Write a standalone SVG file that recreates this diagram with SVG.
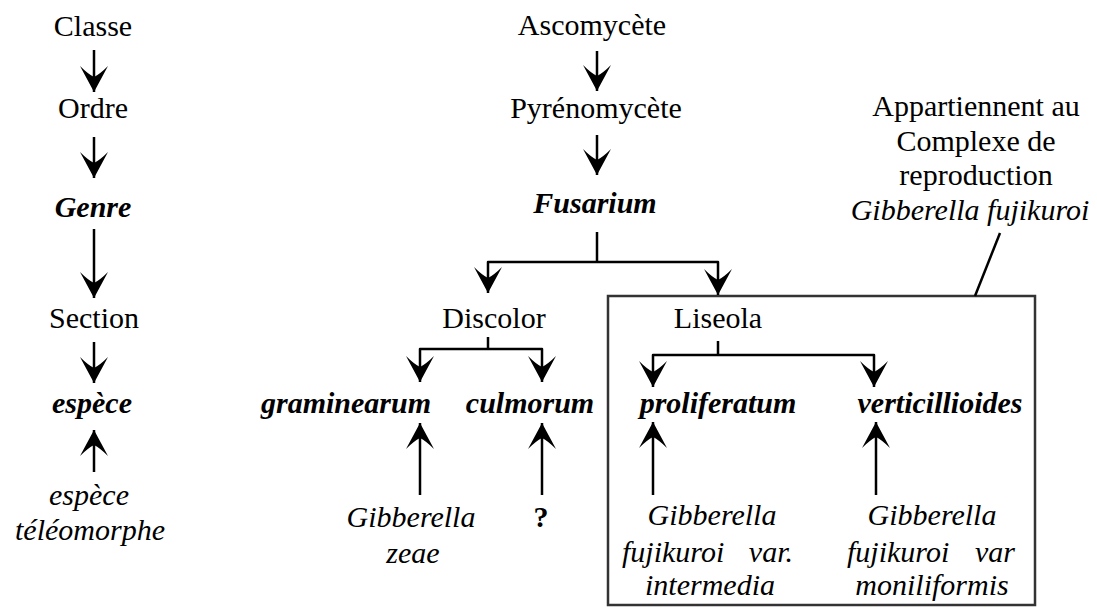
<svg xmlns="http://www.w3.org/2000/svg" width="1097" height="608" viewBox="0 0 1097 608">
<style>
text{font-family:"Liberation Serif","Times New Roman",serif;font-size:30px;fill:#000;text-anchor:middle}
.bi{font-style:italic;font-weight:bold}
.i{font-style:italic}
.b{font-weight:bold}
.ln{fill:none;stroke:#000;stroke-width:2.5;stroke-linejoin:round}
.ar{marker-end:url(#ah)}
.box{fill:none;stroke:#333;stroke-width:2.5}
</style>
<defs>
<marker id="ah" markerUnits="userSpaceOnUse" viewBox="-28 -16 30 32" refX="0" refY="0" markerWidth="30" markerHeight="32" orient="auto">
<path d="M0,0 L-26,-14 Q-18,-6 -15,0 Q-18,6 -26,14 Z" fill="#000"/>
</marker>
</defs>
<rect width="1097" height="608" fill="#fff"/>
<g id="box-gf"><rect class="box" x="608" y="296" width="427" height="309"/></g>
<g id="connectors">
<line class="ln ar" x1="94" y1="50" x2="94" y2="92"/>
<line class="ln ar" x1="94" y1="137" x2="94" y2="178"/>
<line class="ln ar" x1="94" y1="229" x2="94" y2="298"/>
<line class="ln ar" x1="94" y1="342" x2="94" y2="383"/>
<line class="ln ar" x1="94" y1="472" x2="94" y2="430"/>
<line class="ln ar" x1="597" y1="51" x2="597" y2="91"/>
<line class="ln ar" x1="597" y1="135" x2="597" y2="175"/>
<line class="ln" x1="597" y1="232" x2="597" y2="262"/>
<path class="ln ar" d="M597,262 H488 V293"/>
<path class="ln ar" d="M597,262 H718 V295"/>
<line class="ln" x1="488" y1="337" x2="488" y2="349"/>
<path class="ln ar" d="M488,349 H420 V382"/>
<path class="ln ar" d="M488,349 H542 V382"/>
<line class="ln ar" x1="420" y1="495" x2="420" y2="423"/>
<line class="ln ar" x1="542" y1="495" x2="542" y2="423"/>
<line class="ln" x1="718" y1="341" x2="718" y2="355"/>
<path class="ln ar" d="M718,355 H653 V387"/>
<path class="ln ar" d="M718,355 H874 V387"/>
<line class="ln ar" x1="653" y1="495" x2="653" y2="422"/>
<line class="ln ar" x1="876" y1="495" x2="876" y2="422"/>
<line class="ln" x1="975" y1="296" x2="1000" y2="233" stroke-width="2"/>
</g>
<g id="classe"><text x="93" y="36">Classe</text></g>
<g id="ordre"><text x="93" y="118">Ordre</text></g>
<g id="genre"><text class="bi" x="93" y="217">Genre</text></g>
<g id="section"><text x="94" y="328">Section</text></g>
<g id="espece"><text class="bi" x="92" y="413">espèce</text></g>
<g id="espece-teleo"><text class="i" x="89" y="505">espèce</text><text class="i" x="90" y="540">téléomorphe</text></g>
<g id="ascomycete"><text x="592" y="35">Ascomycète</text></g>
<g id="pyrenomycete"><text x="596" y="118">Pyrénomycète</text></g>
<g id="fusarium"><text class="bi" x="595" y="213">Fusarium</text></g>
<g id="discolor"><text x="494" y="328">Discolor</text></g>
<g id="liseola"><text x="718" y="328">Liseola</text></g>
<g id="graminearum"><text class="bi" x="346" y="413">graminearum</text></g>
<g id="culmorum"><text class="bi" x="530" y="413">culmorum</text></g>
<g id="proliferatum"><text class="bi" x="718" y="413">proliferatum</text></g>
<g id="verticillioides"><text class="bi" x="940" y="413">verticillioides</text></g>
<g id="g-zeae"><text class="i" x="411" y="527">Gibberella</text><text class="i" x="413" y="563">zeae</text></g>
<g id="unknown"><text class="b" x="541" y="527">?</text></g>
<g id="g-intermedia"><text class="i" x="712" y="525">Gibberella</text><text class="i" y="562"><tspan x="622" style="text-anchor:start">fujikuroi</tspan><tspan x="793" style="text-anchor:end">var.</tspan></text><text class="i" x="710" y="595">intermedia</text></g>
<g id="g-moniliformis"><text class="i" x="932" y="525">Gibberella</text><text class="i" y="562"><tspan x="847" style="text-anchor:start">fujikuroi</tspan><tspan x="1015" style="text-anchor:end">var</tspan></text><text class="i" x="932" y="595">moniliformis</text></g>
<g id="annotation"><text x="976" y="116">Appartiennent au</text><text x="976" y="151">Complexe de</text><text x="976" y="185">reproduction</text><text class="i" x="970" y="220">Gibberella fujikuroi</text></g>
</svg>
